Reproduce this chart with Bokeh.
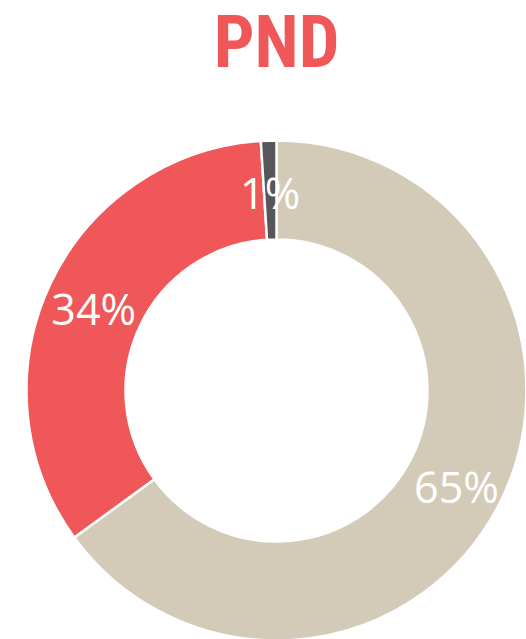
import math
from bokeh.plotting import figure
from bokeh.models import Range1d, ColumnDataSource
from bokeh.core.properties import value
from bokeh.embed import file_html
from bokeh.resources import INLINE

title_text = "PND"
categories = ["Yes", "No", "Other"]
values = [65, 34, 1]
colors = ["#D3CBB8", "#EF5759", "#575759"]

W, H = 526, 639
p = figure(width=W, height=H, output_backend="svg", toolbar_location=None,
           x_range=Range1d(0, W), y_range=Range1d(0, H),
           min_border=0, outline_line_color=None)
p.axis.visible = False
p.grid.visible = False
p.background_fill_color = "white"
p.border_fill_color = "white"

cx, cy = 276, H - 390
R_out, R_in = 250, 151

total = float(sum(values))
starts, ends, lx, ly, labels = [], [], [], [], []
a = math.pi / 2
for v in values:
    sweep = 2 * math.pi * v / total
    end = a
    start = a - sweep
    starts.append(start)
    ends.append(end)
    mid = (start + end) / 2
    lx.append(cx + 202 * math.cos(mid))
    ly.append(cy + 202 * math.sin(mid) - 4)
    labels.append(f"{v}%")
    a = start

src = ColumnDataSource(dict(cat=categories, val=values, color=colors,
                            start=starts, end=ends, lx=lx, ly=ly, label=labels))

p.annular_wedge(x=cx, y=cy, inner_radius=R_in, outer_radius=R_out,
                start_angle="start", end_angle="end", fill_color="color",
                line_color="white", line_width=2.5, source=src)

p.text(x="lx", y="ly", text="label", source=src, text_color="white",
       text_font=value("Open Sans"), text_font_size="43px",
       text_align="center", text_baseline="middle")

p.text(x=[276], y=[H - 42], text=[title_text], text_color="#EF5759",
       text_font=value("Roboto Condensed, Liberation Sans Narrow, DejaVu Sans Condensed, Roboto"),
       text_font_style="bold",
       text_font_size="72px", text_align="center", text_baseline="middle")

open("out.html", "w").write(file_html(p, INLINE))
